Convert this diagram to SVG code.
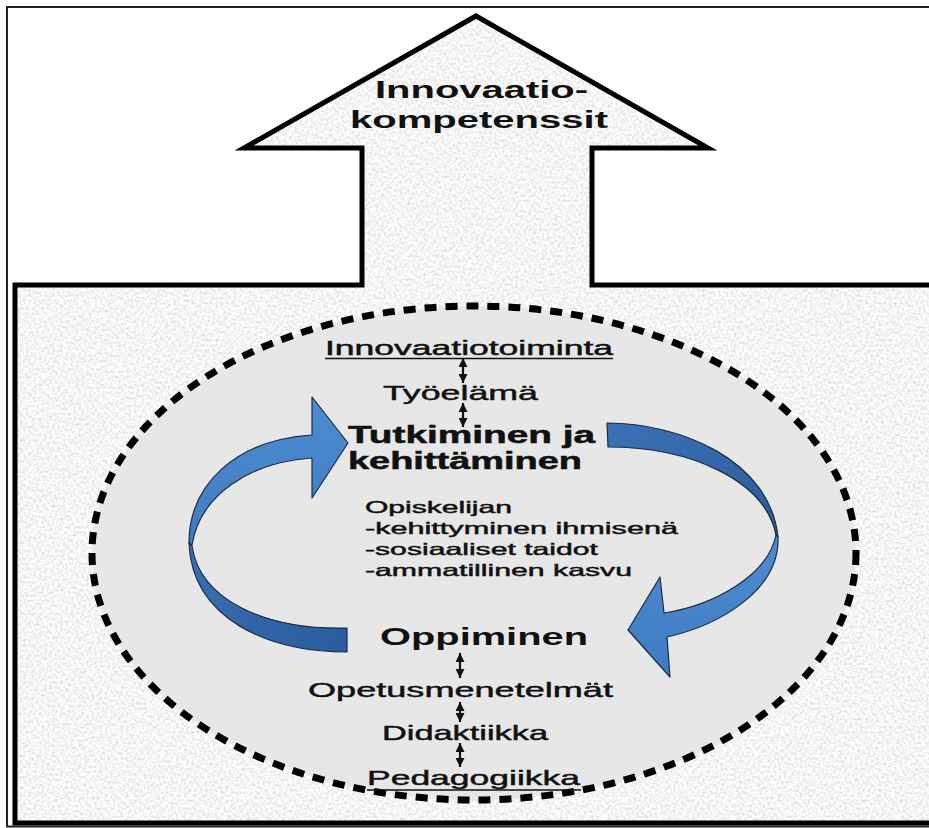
<svg xmlns="http://www.w3.org/2000/svg" width="929" height="828" viewBox="0 0 929 828">
  <defs>
    <style>
      .lbl { font-family: "Liberation Sans", Arial, sans-serif; fill: #111; }
      .r { stroke: #111; stroke-width: 0.45; }
      .b { font-weight: bold; }
      .bb { font-weight: bold; stroke: #111; stroke-width: 0.5; }
      .rib { stroke: #1b2b44; stroke-width: 1.2; stroke-linejoin: round; }
      .uline { stroke: #111; stroke-width: 1.6; }
      .conn { stroke: #111; stroke-width: 2.2; fill: none; marker-start: url(#head); marker-end: url(#head); }
    </style>
    <!-- speckled stone-like grey fill -->
    <filter id="grain" filterUnits="userSpaceOnUse" x="0" y="0" width="929" height="828">
      <feTurbulence type="fractalNoise" baseFrequency="0.38" numOctaves="2" seed="7" result="noise"/>
      <feColorMatrix in="noise" type="matrix" values="0.6 0 0 0 0.61  0.6 0 0 0 0.61  0.6 0 0 0 0.61  0 0 0 0 1" result="grey"/>
      <feComposite in="grey" in2="SourceGraphic" operator="in"/>
    </filter>
    <marker id="head" viewBox="0 0 10 10" refX="10" refY="5" markerWidth="9" markerHeight="9" markerUnits="userSpaceOnUse" orient="auto-start-reverse">
      <path d="M0,0 L10,5 L0,10 Z" fill="#111"/>
    </marker>
    <linearGradient id="blueLight" x1="0" y1="0" x2="0" y2="1">
      <stop offset="0" stop-color="#4f8bd0"/>
      <stop offset="1" stop-color="#3f7bc2"/>
    </linearGradient>
    <linearGradient id="blueDark" x1="0" y1="0" x2="1" y2="1">
      <stop offset="0" stop-color="#3a71b5"/>
      <stop offset="1" stop-color="#2b5c9c"/>
    </linearGradient>
  </defs>

  <rect width="929" height="828" fill="#ffffff"/>

  <!-- picture frame -->
  <g id="frame">
    <path d="M935,7 H7 V826.5 H935" fill="none" stroke="#222" stroke-width="2"/>
  </g>

  <!-- base block with the upward arrow -->
  <g id="competence-arrow">
    <path d="M15,285 H362 V148 H244 L476,16 L708,148 H592 V285 H940 V823 H15 Z" fill="#000" filter="url(#grain)"/>
    <path d="M15,285 H362 V148 H244 L476,16 L708,148 H592 V285 H940 V823 H15 Z" fill="none" stroke="#000" stroke-width="5" stroke-linejoin="miter"/>
    <text class="lbl b" x="375" y="98" font-size="23" textLength="213" lengthAdjust="spacingAndGlyphs">Innovaatio-</text>
    <text class="lbl b" x="350" y="128" font-size="23" textLength="258" lengthAdjust="spacingAndGlyphs">kompetenssit</text>
  </g>

  <!-- dotted innovation circle -->
  <g id="innovation-circle">
    <ellipse cx="474" cy="553" rx="382" ry="247" fill="#e7e7e7" stroke="#000" stroke-width="7" stroke-dasharray="12 9"/>
  </g>

  <!-- cycle arrows -->
  <g id="cycle-left">
    <path class="rib" fill="url(#blueDark)" d="M189,543 C192,620 270,652 347,652 L347,628 C265,630 200,600 192,546 Z"/>
    <path class="rib" fill="url(#blueLight)" d="M312,435 C235,440 189,485 189,543 L192,545 C200,495 250,462 312,458 L312,498 L348,443 L312,397 Z"/>
  </g>
  <g id="cycle-right">
    <path class="rib" fill="url(#blueDark)" d="M607,423 C680,423 770,460 778,537 L776,535 C765,480 690,447 608,447 Z"/>
    <path class="rib" fill="url(#blueLight)" d="M778,537 C780,590 720,625 667,637 L670,677 L628,630 L660,577 L664,613 C715,605 768,575 776,535 Z"/>
  </g>

  <!-- concept labels -->
  <g id="innovaatiotoiminta">
    <text class="lbl r" x="325" y="355" font-size="20" textLength="288" lengthAdjust="spacingAndGlyphs">Innovaatiotoiminta</text>
    <line class="uline" x1="325" y1="358.5" x2="613" y2="358.5"/>
  </g>
  <g id="tyoelama">
    <text class="lbl r" x="383" y="400" font-size="21" textLength="155" lengthAdjust="spacingAndGlyphs">Työelämä</text>
  </g>
  <g id="tutkiminen">
    <text class="lbl bb" x="348" y="443" font-size="23" textLength="247" lengthAdjust="spacingAndGlyphs">Tutkiminen ja</text>
    <text class="lbl bb" x="348" y="469" font-size="23" textLength="234" lengthAdjust="spacingAndGlyphs">kehittäminen</text>
  </g>
  <g id="opiskelijan">
    <text class="lbl r" x="365" y="513" font-size="16.5" textLength="147" lengthAdjust="spacingAndGlyphs">Opiskelijan</text>
    <text class="lbl r" x="365" y="534" font-size="16.5" textLength="313" lengthAdjust="spacingAndGlyphs">-kehittyminen ihmisenä</text>
    <text class="lbl r" x="365" y="555" font-size="16.5" textLength="233" lengthAdjust="spacingAndGlyphs">-sosiaaliset taidot</text>
    <text class="lbl r" x="365" y="576" font-size="16.5" textLength="267" lengthAdjust="spacingAndGlyphs">-ammatillinen kasvu</text>
  </g>
  <g id="oppiminen">
    <text class="lbl b" x="380" y="645" font-size="24" textLength="208" lengthAdjust="spacingAndGlyphs">Oppiminen</text>
  </g>
  <g id="opetusmenetelmat">
    <text class="lbl r" x="308" y="697" font-size="21" textLength="305" lengthAdjust="spacingAndGlyphs">Opetusmenetelmät</text>
  </g>
  <g id="didaktiikka">
    <text class="lbl r" x="382" y="740" font-size="21" textLength="166" lengthAdjust="spacingAndGlyphs">Didaktiikka</text>
  </g>
  <g id="pedagogiikka">
    <text class="lbl r" x="367" y="785" font-size="21" textLength="213" lengthAdjust="spacingAndGlyphs">Pedagogiikka</text>
    <line class="uline" x1="367" y1="790" x2="581" y2="790"/>
  </g>

  <!-- two-way links between the levels -->
  <g id="connectors">
    <line class="conn" x1="463" y1="358" x2="463" y2="383"/>
    <line class="conn" x1="463" y1="403" x2="463" y2="427"/>
    <line class="conn" x1="460" y1="653" x2="460" y2="678"/>
    <line class="conn" x1="460" y1="702" x2="460" y2="722"/>
    <line class="conn" x1="460" y1="743" x2="460" y2="767"/>
  </g>
</svg>
